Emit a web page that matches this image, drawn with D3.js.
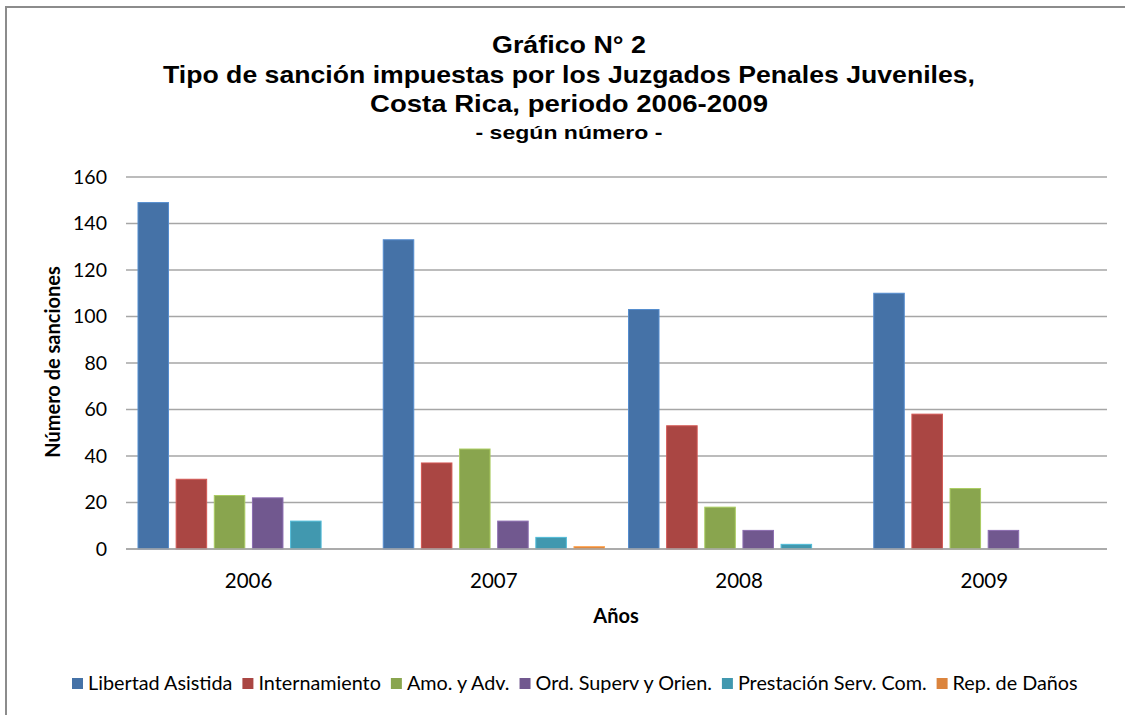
<!DOCTYPE html>
<html>
<head>
<meta charset="utf-8">
<script src="https://cdn.jsdelivr.net/npm/d3@7"></script>
<style>
  body { margin: 0; background: #fff; }
  svg { display: block; }
</style>
</head>
<body>
<svg width="1125" height="715"></svg>
<script>
// data
const years = ["2006", "2007", "2008", "2009"];
const seriesNames = ["Libertad Asistida", "Internamiento", "Amo. y Adv.", "Ord. Superv y Orien.", "Prestación Serv. Com.", "Rep. de Daños"];
const libertadAsistida = [149, 133, 103, 110];
const internamiento = [30, 37, 53, 58];
const amoAdv = [23, 43, 18, 26];
const ordSuperv = [22, 12, 8, 8];
const prestacionServ = [12, 5, 2, 0];
const repDanos = [0, 1, 0, 0];
const yTicks = [0, 20, 40, 60, 80, 100, 120, 140, 160];
const colors = ["#4572a7", "#aa4643", "#89a54e", "#71588f", "#4198af", "#db843d"];

const allSeries = [libertadAsistida, internamiento, amoAdv, ordSuperv, prestacionServ, repDanos];

let svg = d3.select("svg"),
  plot = { left: 126, right: 1107, top: 177, bottom: 549 };

// chart frame
svg.append("rect")
  .attr("x", 6).attr("y", 7)
  .attr("width", 1140).attr("height", 730)
  .attr("fill", "#fff")
  .attr("stroke", "#8c8c8c")
  .attr("stroke-width", 2);

// title
let titleLines = [
  { text: "Gráfico N° 2", y: 53, size: 24, len: 154 },
  { text: "Tipo de sanción impuestas por los Juzgados Penales Juveniles,", y: 83, size: 24, len: 812 },
  { text: "Costa Rica, periodo 2006-2009", y: 112, size: 24, len: 398 },
  { text: "- según número -", y: 139, size: 18, len: 187 }
];
svg.selectAll(".title")
  .data(titleLines)
  .enter().append("text")
  .attr("class", "title")
  .attr("x", 569)
  .attr("y", d => d.y)
  .attr("text-anchor", "middle")
  .attr("textLength", d => d.len)
  .attr("lengthAdjust", "spacingAndGlyphs")
  .style("font", d => "bold " + d.size + "px 'Liberation Sans', Arial, sans-serif")
  .attr("fill", "#000")
  .text(d => d.text);

let x0 = d3.scaleBand().domain(years).range([plot.left, plot.right]);
let x1 = d3.scaleBand().domain(seriesNames)
  .range([12, x0.bandwidth() - 12])
  .paddingInner(0.2);
let y = d3.scaleLinear().domain([0, 160]).range([plot.bottom, plot.top]);

// gridlines
svg.append("g")
  .selectAll("line")
  .data(yTicks)
  .enter().append("line")
  .attr("x1", plot.left)
  .attr("x2", plot.right)
  .attr("y1", d => y(d))
  .attr("y2", d => y(d))
  .attr("stroke", "#a6a6a6")
  .attr("stroke-width", 1.5);

// y axis labels
let yAxis = svg.append("g")
  .attr("transform", "translate(" + plot.left + ",0)")
  .call(d3.axisLeft(y).tickValues(yTicks).tickSize(0).tickPadding(19));
yAxis.select(".domain").remove();
yAxis.selectAll("text")
  .style("font", "19.5px Lato, 'Open Sans', sans-serif")
  .attr("fill", "#000");

// bars
let group = svg.selectAll(".year")
  .data(years)
  .enter().append("g")
  .attr("class", "year")
  .attr("transform", d => "translate(" + x0(d) + ",0)");

group.selectAll("rect")
  .data((yr, i) => seriesNames.map((s, j) => ({ name: s, value: allSeries[j][i], color: colors[j] })))
  .enter().append("rect")
  .filter(d => d.value > 0)
  .attr("x", d => x1(d.name))
  .attr("width", x1.bandwidth())
  .attr("y", d => y(d.value))
  .attr("height", d => y(0) - y(d.value))
  .attr("fill", d => d.color)
  .attr("stroke", d => d3.color(d.color).brighter(0.6))
  .attr("stroke-width", 1);

// baseline over bars
svg.append("line")
  .attr("x1", plot.left).attr("x2", plot.right)
  .attr("y1", y(0)).attr("y2", y(0))
  .attr("stroke", "#a6a6a6")
  .attr("stroke-width", 1.5);

// x axis labels
let xAxis = svg.append("g")
  .attr("transform", "translate(0," + plot.bottom + ")")
  .call(d3.axisBottom(x0).tickSize(0).tickPadding(24));
xAxis.select(".domain").remove();
xAxis.selectAll("text")
  .style("font", "20.5px Lato, 'Open Sans', sans-serif")
  .attr("fill", "#000");

// axis titles
svg.append("text")
  .attr("x", 616)
  .attr("y", 623)
  .attr("text-anchor", "middle")
  .style("font", "bold 20px Lato, 'Open Sans', sans-serif")
  .text("Años");

svg.append("text")
  .attr("transform", "translate(60,362) rotate(-90)")
  .attr("text-anchor", "middle")
  .style("font", "bold 20px Lato, 'Open Sans', sans-serif")
  .text("Número de sanciones");

// legend
let legend = svg.append("g").attr("class", "legend");
let lx = 72;
seriesNames.forEach((name, i) => {
  legend.append("rect")
    .attr("x", lx).attr("y", 678)
    .attr("width", 11).attr("height", 11)
    .attr("fill", colors[i]);
  let t = legend.append("text")
    .attr("x", lx + 16)
    .attr("y", 690)
    .style("font", "19.8px Lato, 'Open Sans', sans-serif")
    .attr("fill", "#000")
    .text(name);
  lx += 16 + t.node().getComputedTextLength() + 10;
});
</script>
</body>
</html>
